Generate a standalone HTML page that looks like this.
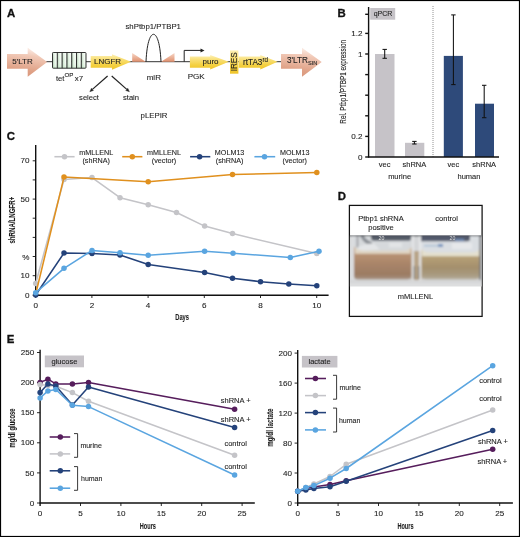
<!DOCTYPE html>
<html><head><meta charset="utf-8">
<style>
html,body{margin:0;padding:0;background:#fff;}
body{width:520px;height:537px;overflow:hidden;}
svg{display:block;font-family:"Liberation Sans",sans-serif;will-change:transform;filter:blur(0.3px);}
.t{font-size:7.5px;fill:#1e1e1e;stroke:#1e1e1e;stroke-width:0.1px;}
.lab{font-size:11.4px;font-weight:bold;fill:#111;stroke:#111;stroke-width:0.3px;}
.tk{font-size:8.1px;}
</style></head><body>
<svg width="520" height="537" viewBox="0 0 520 537">
<defs>
<linearGradient id="salmon" x1="0.3" y1="0" x2="0.1" y2="1">
<stop offset="0" stop-color="#fae8e0"/><stop offset="0.22" stop-color="#f1c9b7"/><stop offset="0.72" stop-color="#dfa186"/><stop offset="1" stop-color="#d8957a"/>
</linearGradient>
<linearGradient id="yel" x1="0" y1="0" x2="0" y2="1">
<stop offset="0" stop-color="#fdf1b8"/><stop offset="0.3" stop-color="#f9e07a"/><stop offset="0.7" stop-color="#f4d040"/><stop offset="1" stop-color="#efc42a"/>
</linearGradient>
<linearGradient id="grn" x1="0" y1="0" x2="0" y2="1">
<stop offset="0" stop-color="#f4fbf4"/><stop offset="1" stop-color="#c9e6cc"/>
</linearGradient>
<clipPath id="pc"><rect x="349.9" y="235.3" width="131.7" height="51.2"/></clipPath>
<filter id="bl" x="-5%" y="-5%" width="110%" height="110%"><feGaussianBlur stdDeviation="0.8"/></filter>
<linearGradient id="liqL" x1="0" y1="0" x2="0" y2="1">
<stop offset="0" stop-color="#c8a482"/><stop offset="0.25" stop-color="#b89274"/><stop offset="0.55" stop-color="#a88468"/><stop offset="0.85" stop-color="#9c7c64"/><stop offset="1" stop-color="#a89484"/>
</linearGradient>
<linearGradient id="liqR" x1="0" y1="0" x2="0" y2="1">
<stop offset="0" stop-color="#c4ac80"/><stop offset="0.3" stop-color="#b49e76"/><stop offset="0.6" stop-color="#a48f6c"/><stop offset="0.85" stop-color="#a89a80"/><stop offset="1" stop-color="#b8b0a0"/>
</linearGradient>
<linearGradient id="tri" x1="0" y1="0" x2="0" y2="1">
<stop offset="0" stop-color="#f6d6c6"/><stop offset="1" stop-color="#e0906e"/>
</linearGradient>
<linearGradient id="cell" x1="0" y1="0" x2="1" y2="0">
<stop offset="0" stop-color="#9db59f"/><stop offset="0.3" stop-color="#d8ecd8"/><stop offset="0.7" stop-color="#f3fbf3"/><stop offset="1" stop-color="#e2f0e2"/>
</linearGradient>
<linearGradient id="grnv" x1="0" y1="0" x2="0" y2="1">
<stop offset="0" stop-color="#ffffff" stop-opacity="0.35"/><stop offset="0.5" stop-color="#ffffff" stop-opacity="0"/><stop offset="1" stop-color="#a8d8ac" stop-opacity="0.35"/>
</linearGradient>
</defs>
<rect x="0.5" y="0.5" width="519" height="536" fill="#fff" stroke="#000" stroke-width="1.2"/>

<!-- ============ PANEL A ============ -->
<text class="lab" x="7" y="16.7">A</text>
<!-- backbone line -->
<line x1="45" y1="61.7" x2="282" y2="61.7" stroke="#333" stroke-width="1"/>
<!-- 5'LTR -->
<path d="M7,54.1 H27.7 V47.8 L47.2,62 L27.7,76.7 V68.8 H7 Z" fill="url(#salmon)"/>
<text class="t" x="22.5" y="64" style="font-size:8px" text-anchor="middle">5'LTR</text>
<!-- tetOP -->
<rect x="52.5" y="52.5" width="4.8" height="15.7" fill="url(#cell)"/><rect x="57.3" y="52.5" width="4.8" height="15.7" fill="url(#cell)"/><rect x="62.1" y="52.5" width="4.8" height="15.7" fill="url(#cell)"/><rect x="66.9" y="52.5" width="4.8" height="15.7" fill="url(#cell)"/><rect x="71.7" y="52.5" width="4.8" height="15.7" fill="url(#cell)"/><rect x="76.5" y="52.5" width="4.8" height="15.7" fill="url(#cell)"/><rect x="81.3" y="52.5" width="4.7" height="15.7" fill="url(#cell)"/>
<rect x="52.5" y="52.5" width="33.5" height="15.7" fill="url(#grnv)"/>
<rect x="52.5" y="52.5" width="33.5" height="15.7" rx="0.8" fill="none" stroke="#2a2a2a" stroke-width="0.95"/>
<g stroke="#2a2a2a" stroke-width="0.95"><line x1="57.3" y1="52.5" x2="57.3" y2="68.2"/><line x1="62.1" y1="52.5" x2="62.1" y2="68.2"/><line x1="66.9" y1="52.5" x2="66.9" y2="68.2"/><line x1="71.7" y1="52.5" x2="71.7" y2="68.2"/><line x1="76.5" y1="52.5" x2="76.5" y2="68.2"/><line x1="81.3" y1="52.5" x2="81.3" y2="68.2"/></g>
<text class="t" x="56" y="80.8" style="font-size:7.6px">tet<tspan dy="-3.4" style="font-size:6.2px">OP</tspan><tspan dy="3.4" dx="-0.9" style="font-size:7.9px"> x7</tspan></text>
<!-- LNGFR -->
<path d="M90.7,55.9 H112 V54.2 L131,61.8 L112,69.8 V67.7 H90.7 Z" fill="url(#yel)"/>
<text class="t" x="94" y="64.4" style="font-size:8px">LNGFR</text>
<!-- arrows select/stain -->
<g stroke="#222" stroke-width="1.2" fill="#222">
<line x1="107.6" y1="76" x2="92.4" y2="89.4"/><path d="M89.8,91.7 L93.42,90.51 L91.44,88.25 Z" stroke-width="0.4"/>
<line x1="111.7" y1="76" x2="126.8" y2="89.4"/><path d="M129.4,91.7 L125.78,90.5 L127.78,88.26 Z" stroke-width="0.4"/>
</g>
<text class="t" x="89" y="100" text-anchor="middle" style="font-size:7.6px">select</text>
<text class="t" x="131" y="100" text-anchor="middle" style="font-size:7.6px">stain</text>
<!-- miR -->
<path d="M132.2,53 L132.2,61.7 L145.8,61.7 Z" fill="url(#tri)"/>
<path d="M174.5,53 L174.5,61.7 L161,61.7 Z" fill="url(#tri)"/>
<path d="M146,61.7 C147,40 151,34.3 153.5,34.3 C156,34.3 160,40 161,61.7" fill="none" stroke="#222" stroke-width="1"/>
<text class="t" x="153.2" y="29.2" text-anchor="middle" style="font-size:7.8px">shPtbp1/PTBP1</text>
<text class="t" x="153.8" y="79.5" text-anchor="middle" style="font-size:8px">miR</text>
<!-- PGK -->
<path d="M184.2,61.7 V50.4 H201" fill="none" stroke="#222" stroke-width="1"/>
<path d="M204.5,50.4 L200.5,48.4 L200.5,52.4 Z" fill="#222"/>
<text class="t" x="196.2" y="79.4" text-anchor="middle" style="font-size:8.1px">PGK</text>
<!-- puro -->
<path d="M189.9,56.4 H210.2 V55 L228.8,61.8 L210.2,69.4 V67.7 H189.9 Z" fill="url(#yel)"/>
<text class="t" x="202.5" y="63.8" style="font-size:8px">puro</text>
<!-- IRES -->
<rect x="230" y="50.4" width="8.4" height="23.3" fill="url(#yel)"/>
<text class="t" transform="translate(236.6,61.8) rotate(-90)" text-anchor="middle" style="font-size:8.2px">IRES</text>
<!-- rtTA3 -->
<path d="M238.7,56.4 H260.3 V55 L277.6,61.8 L260.3,69.5 V67.7 H238.7 Z" fill="url(#yel)"/>
<text class="t" x="243" y="65.4" style="font-size:8.2px">rtTA3<tspan dy="-3.1" style="font-size:6.3px">rd</tspan></text>
<!-- 3'LTR -->
<path d="M281,54.1 H302 V47.8 L321.7,62 L302,76.7 V68.8 H281 Z" fill="url(#salmon)"/>
<text class="t" x="287" y="63.2" style="font-size:8.2px">3'LTR<tspan dy="2.2" style="font-size:5.6px">SIN</tspan></text>
<text class="t" x="154" y="118.4" text-anchor="middle" style="font-size:7.8px">pLEPIR</text>

<!-- ============ PANEL B ============ -->
<text class="lab" x="337.4" y="16.6">B</text>
<rect x="370.2" y="8" width="25" height="11.7" fill="#c6c3c8"/>
<text class="t" x="383" y="16.3" text-anchor="middle" style="font-size:7px">qPCR</text>
<!-- bars -->
<rect x="375" y="54" width="19.5" height="103" fill="#c6c3c8"/>
<rect x="405" y="142.8" width="19.3" height="14.2" fill="#c6c3c8"/>
<rect x="443.8" y="55.9" width="19.1" height="101.1" fill="#2e4a7a"/>
<rect x="475" y="103.7" width="19" height="53.3" fill="#2e4a7a"/>
<!-- error bars -->
<g stroke="#111" stroke-width="1.05">
<line x1="384.7" y1="49.4" x2="384.7" y2="58.3"/><line x1="382.5" y1="49.4" x2="386.9" y2="49.4"/><line x1="382.5" y1="58.3" x2="386.9" y2="58.3"/>
<line x1="414.4" y1="141.4" x2="414.4" y2="144"/><line x1="412.2" y1="141.4" x2="416.59999999999997" y2="141.4"/><line x1="412.2" y1="144" x2="416.59999999999997" y2="144"/>
<line x1="453.4" y1="14.9" x2="453.4" y2="84.6"/><line x1="451.2" y1="14.9" x2="455.59999999999997" y2="14.9"/><line x1="451.2" y1="84.6" x2="455.59999999999997" y2="84.6"/>
<line x1="484.2" y1="85.3" x2="484.2" y2="117.7"/><line x1="482.0" y1="85.3" x2="486.4" y2="85.3"/><line x1="482.0" y1="117.7" x2="486.4" y2="117.7"/>
</g>
<line x1="433" y1="6" x2="433" y2="157" stroke="#777" stroke-width="0.8" stroke-dasharray="1,1"/>
<!-- axes -->
<g stroke="#111" stroke-width="1.4">
<line x1="368.6" y1="7" x2="368.6" y2="157.5"/>
<line x1="368.1" y1="157" x2="499" y2="157"/>
<line x1="365.2" y1="14.3" x2="368.6" y2="14.3"/>
<line x1="365.2" y1="157" x2="368.6" y2="157"/>
<line x1="365.2" y1="33.4" x2="368.6" y2="33.4"/>
<line x1="365.2" y1="54" x2="368.6" y2="54"/>
<line x1="365.2" y1="74.6" x2="368.6" y2="74.6"/>
<line x1="365.2" y1="95.2" x2="368.6" y2="95.2"/>
<line x1="365.2" y1="115.8" x2="368.6" y2="115.8"/>
<line x1="365.2" y1="136.4" x2="368.6" y2="136.4"/>
</g>
<g class="t tk" text-anchor="end">
<text x="362.5" y="35.9">1.2</text>
<text x="362.5" y="56.7">1</text>
<text x="362.5" y="139.1">0.2</text>
<text x="362.5" y="159.9">0</text>
</g>
<text class="t" transform="translate(346,81.8) rotate(-90) scale(0.705,1)" text-anchor="middle" style="font-size:9px">Rel. Ptbp1/PTBP1 expression</text>
<text class="t" x="384.6" y="167" text-anchor="middle">vec</text>
<text class="t" x="414.4" y="167" text-anchor="middle">shRNA</text>
<text class="t" x="399.6" y="178.5" text-anchor="middle">murine</text>
<text class="t" x="453.4" y="167" text-anchor="middle">vec</text>
<text class="t" x="484.2" y="167" text-anchor="middle">shRNA</text>
<text class="t" x="469" y="178.5" text-anchor="middle">human</text>

<!-- ============ PANEL C ============ -->
<text class="lab" x="6.7" y="139.5">C</text>
<g stroke="#111" stroke-width="1.4">
<line x1="35.7" y1="145" x2="35.7" y2="295.5"/>
<line x1="32.7" y1="295.2" x2="328.6" y2="295.2"/>
</g>
<g stroke="#111" stroke-width="0.9">
<line x1="32.7" y1="160.8" x2="35.7" y2="160.8"/><line x1="32.7" y1="179.9" x2="35.7" y2="179.9"/>
<line x1="32.7" y1="199.1" x2="35.7" y2="199.1"/><line x1="32.7" y1="218.2" x2="35.7" y2="218.2"/>
<line x1="32.7" y1="237.4" x2="35.7" y2="237.4"/><line x1="32.7" y1="256.5" x2="35.7" y2="256.5"/>
<line x1="32.7" y1="275.7" x2="35.7" y2="275.7"/>
<line x1="35.7" y1="295" x2="35.7" y2="298"/><line x1="91.9" y1="295" x2="91.9" y2="298"/>
<line x1="148.1" y1="295" x2="148.1" y2="298"/><line x1="204.3" y1="295" x2="204.3" y2="298"/>
<line x1="260.5" y1="295" x2="260.5" y2="298"/><line x1="316.7" y1="295" x2="316.7" y2="298"/>
</g>
<text class="t tk" x="29.5" y="163.4" text-anchor="end">70</text>
<text class="t tk" x="29.5" y="201.7" text-anchor="end">50</text>
<text class="t tk" x="29.5" y="259.5" text-anchor="end">%</text>
<text class="t tk" x="29.5" y="278.3" text-anchor="end">10</text>
<text class="t tk" x="29.5" y="297.5" text-anchor="end">0</text>
<g class="t tk" text-anchor="middle">
<text x="35.7" y="308">0</text><text x="91.9" y="308">2</text><text x="148.1" y="308">4</text>
<text x="204.3" y="308">6</text><text x="260.5" y="308">8</text><text x="316.7" y="308">10</text>
</g>
<text class="t" transform="translate(182.1,320.4) scale(0.64,1)" text-anchor="middle" style="font-size:9px;font-weight:bold">Days</text>
<text class="t" transform="translate(15.1,220.2) rotate(-90) scale(0.706,1)" text-anchor="middle" style="font-size:8.7px;font-weight:bold">shRNA/LNGFR+</text>
<!--SC-->
<polyline fill="none" stroke="#c4c4c8" stroke-width="1.55" stroke-linejoin="round" points="35.7,283.5 64,179.6 92,177.6 120,197.7 148.2,204.7 176.5,212.5 204.6,226.1 232.5,233.6 316.8,253.6"/>
<g fill="#c4c4c8"><circle cx="35.7" cy="283.5" r="2.75"/><circle cx="64" cy="179.6" r="2.75"/><circle cx="92" cy="177.6" r="2.75"/><circle cx="120" cy="197.7" r="2.75"/><circle cx="148.2" cy="204.7" r="2.75"/><circle cx="176.5" cy="212.5" r="2.75"/><circle cx="204.6" cy="226.1" r="2.75"/><circle cx="232.5" cy="233.6" r="2.75"/><circle cx="316.8" cy="253.6" r="2.75"/></g>
<polyline fill="none" stroke="#e0901e" stroke-width="1.55" stroke-linejoin="round" points="35.7,294 64,177.1 148.2,181.8 232.5,174.6 316.8,172.6"/>
<g fill="#e0901e"><circle cx="64" cy="177.1" r="2.75"/><circle cx="148.2" cy="181.8" r="2.75"/><circle cx="232.5" cy="174.6" r="2.75"/><circle cx="316.8" cy="172.6" r="2.75"/></g>
<polyline fill="none" stroke="#24427a" stroke-width="1.55" stroke-linejoin="round" points="35.7,295 64,253 92,253.5 120,255 148.2,264.6 204.6,272.6 232.5,278.2 260.5,281.7 288.8,284 316.8,285.8"/>
<g fill="#24427a"><circle cx="35.7" cy="295" r="2.75"/><circle cx="64" cy="253" r="2.75"/><circle cx="92" cy="253.5" r="2.75"/><circle cx="120" cy="255" r="2.75"/><circle cx="148.2" cy="264.6" r="2.75"/><circle cx="204.6" cy="272.6" r="2.75"/><circle cx="232.5" cy="278.2" r="2.75"/><circle cx="260.5" cy="281.7" r="2.75"/><circle cx="288.8" cy="284" r="2.75"/><circle cx="316.8" cy="285.8" r="2.75"/></g>
<polyline fill="none" stroke="#5aa5e0" stroke-width="1.55" stroke-linejoin="round" points="35.7,292.7 64,268.3 92,250.5 120,252.8 148.2,255.3 204.6,251.2 233,253.2 290.3,257.5 319,251.2"/>
<g fill="#5aa5e0"><circle cx="35.7" cy="292.7" r="2.75"/><circle cx="64" cy="268.3" r="2.75"/><circle cx="92" cy="250.5" r="2.75"/><circle cx="120" cy="252.8" r="2.75"/><circle cx="148.2" cy="255.3" r="2.75"/><circle cx="204.6" cy="251.2" r="2.75"/><circle cx="233" cy="253.2" r="2.75"/><circle cx="290.3" cy="257.5" r="2.75"/><circle cx="319" cy="251.2" r="2.75"/></g>
<!--/SC-->
<!-- legend C -->
<g stroke-width="1.55">
<line x1="54.4" y1="156.7" x2="74.6" y2="156.7" stroke="#c4c4c8"/>
<line x1="122.2" y1="156.7" x2="142.4" y2="156.7" stroke="#e0901e"/>
<line x1="190.1" y1="156.7" x2="210.3" y2="156.7" stroke="#24427a"/>
<line x1="254.4" y1="156.7" x2="275.2" y2="156.7" stroke="#5aa5e0"/>
</g>
<circle cx="64.5" cy="156.7" r="2.75" fill="#c4c4c8"/>
<circle cx="132.3" cy="156.7" r="2.75" fill="#e0901e"/>
<circle cx="199.6" cy="156.7" r="2.75" fill="#24427a"/>
<circle cx="264.5" cy="156.7" r="2.75" fill="#5aa5e0"/>
<g class="t" text-anchor="middle" style="font-size:7.2px">
<text x="96.2" y="155">mMLLENL</text><text x="96.2" y="163.4">(shRNA)</text>
<text x="164" y="155">mMLLENL</text><text x="164" y="163.4">(vector)</text>
<text x="229.6" y="155">MOLM13</text><text x="229.6" y="163.4">(shRNA)</text>
<text x="294.8" y="155">MOLM13</text><text x="294.8" y="163.4">(vector)</text>
</g>

<!-- ============ PANEL D ============ -->
<text class="lab" x="337.8" y="199.5">D</text>
<rect x="349.4" y="205.4" width="132.7" height="111" fill="#fff" stroke="#111" stroke-width="1.25"/>
<text class="t" x="381" y="221" text-anchor="middle">Ptbp1 shRNA</text>
<text class="t" x="381" y="229.7" text-anchor="middle">positive</text>
<text class="t" x="446.6" y="221" text-anchor="middle">control</text>
<text class="t" x="415.5" y="299.3" text-anchor="middle">mMLLENL</text>
<g clip-path="url(#pc)">
<g filter="url(#bl)">
<rect x="345" y="230" width="140" height="60" fill="#d4d6d8"/>
<rect x="345" y="234" width="140" height="2.2" fill="#3a3d44"/>
<!-- left flask upper -->
<rect x="353" y="236" width="58" height="15" fill="#d6d9dc"/>
<path d="M371,235.5 H411 V239 Q411,240.8 408,240.8 H376 Q371,240.8 371,238.5 Z" fill="#555b68"/>
<path d="M360,236 Q364,244 372,246 L372,242 Q366,240 364,236 Z" fill="#8a8e94"/>
<rect x="356.8" y="236" width="1.4" height="12" fill="#8a8e92"/>
<path d="M356,248.5 Q364,243 374,243.5 L380,249.5 L360,251 Z" fill="#e4e6e8"/>
<rect x="389" y="242.5" width="13" height="5" fill="#e2e4e6"/>
<!-- right flask upper -->
<rect x="421" y="236" width="59" height="17" fill="#dadee2"/>
<path d="M421,235.5 H470 V239.3 Q470,241.3 466,241.3 H421 Z" fill="#525a6c"/>
<rect x="424" y="245" width="14" height="1.3" fill="#a4bcd4"/>
<rect x="438" y="244" width="5" height="3" fill="#7a98c0"/>
<rect x="455" y="238.8" width="9" height="2.3" fill="#6a86b0"/>
<rect x="452" y="243" width="20" height="6" fill="#e6e8ea"/>
<!-- liquids -->
<path d="M354,246 Q356,252 362,252.5 H405 Q410,252 411.5,247 V276 Q411.5,279.5 407,279.5 H358 Q354,279.5 354,276 Z" fill="url(#liqL)"/>
<path d="M355,247.5 Q358,250.5 364,250.8 H404 Q409,250.5 410.5,247.5 V253.8 H355 Z" fill="#e0d6c4"/>
<path d="M421.5,249 Q423,255.5 430,256 H472 Q478,255.5 479.5,249 V276 Q479.5,279.5 475,279.5 H426 Q421.5,279.5 421.5,276 Z" fill="url(#liqR)"/>
<path d="M421.5,249 Q424,252.3 430,252.6 H472 Q478,252.3 479.5,249 V256.3 H421.5 Z" fill="#e4e0ce"/>
<!-- gap between flasks -->
<rect x="411.5" y="251" width="10" height="29" fill="#b8a488"/>
<rect x="412" y="236" width="1.8" height="45" fill="#e6e8ea"/>
<rect x="419.2" y="236" width="1.8" height="45" fill="#eaeced"/>
<rect x="413.8" y="266" width="1" height="13" fill="#555"/>
<rect x="418.2" y="266" width="1" height="13" fill="#555"/>
<!-- walls -->
<rect x="351.3" y="236" width="2" height="44" fill="#e0e2e4"/>
<rect x="479.6" y="236" width="1.4" height="44" fill="#4a4d52"/>
<!-- bottom -->
<rect x="345" y="280.5" width="140" height="10" fill="#d6d7d8"/>
<rect x="345" y="283.5" width="140" height="6" fill="#dedfe0"/>
</g>
<text x="378.5" y="240.2" style="font-size:5.2px;fill:#e4e4e4">20</text>
<text x="449.5" y="240.4" style="font-size:5.2px;fill:#dcdcdc">20</text>
</g>

<!-- ============ PANEL E ============ -->
<text class="lab" x="6.7" y="342.5">E</text>
<!-- glucose axes -->
<g stroke="#111" stroke-width="1.4">
<line x1="40.1" y1="349.8" x2="40.1" y2="506"/>
<line x1="39.6" y1="503" x2="254.8" y2="503"/>
</g>
<g stroke="#111" stroke-width="0.9">
<line x1="37" y1="352.5" x2="40.1" y2="352.5"/><line x1="37" y1="382.6" x2="40.1" y2="382.6"/>
<line x1="37" y1="412.7" x2="40.1" y2="412.7"/><line x1="37" y1="442.8" x2="40.1" y2="442.8"/>
<line x1="37" y1="472.9" x2="40.1" y2="472.9"/><line x1="37" y1="503" x2="40.1" y2="503"/>
<line x1="80.5" y1="503" x2="80.5" y2="506"/><line x1="120.9" y1="503" x2="120.9" y2="506"/>
<line x1="161.3" y1="503" x2="161.3" y2="506"/><line x1="201.7" y1="503" x2="201.7" y2="506"/>
<line x1="242.1" y1="503" x2="242.1" y2="506"/>
</g>
<g class="t tk" text-anchor="end">
<text x="34.2" y="355">250</text><text x="34.2" y="385.2">200</text><text x="34.2" y="415.3">150</text>
<text x="34.2" y="445.4">100</text><text x="34.2" y="475.5">50</text><text x="34.2" y="505.6">0</text>
</g>
<g class="t tk" text-anchor="middle">
<text x="40.1" y="515.7">0</text><text x="80.5" y="515.7">5</text><text x="120.9" y="515.7">10</text>
<text x="161.3" y="515.7">15</text><text x="201.7" y="515.7">20</text><text x="242.1" y="515.7">25</text>
</g>
<text class="t" transform="translate(147.9,528.8) scale(0.62,1)" text-anchor="middle" style="font-size:9px;font-weight:bold">Hours</text>
<text class="t" transform="translate(15.2,428) rotate(-90) scale(0.667,1)" text-anchor="middle" style="font-size:8.7px;font-weight:bold">mg/dl glucose</text>
<rect x="44.8" y="355.5" width="39.2" height="11.8" fill="#c6c3c8"/>
<text class="t" x="64.4" y="364" text-anchor="middle">glucose</text>
<!--SG-->
<polyline fill="none" stroke="#561d5c" stroke-width="1.55" stroke-linejoin="round" points="40.1,382.4 47.9,379.2 55.8,383.9 72.4,383.9 88.5,382.5 234.6,409.2"/>
<g fill="#561d5c"><circle cx="40.1" cy="382.4" r="2.75"/><circle cx="47.9" cy="379.2" r="2.75"/><circle cx="55.8" cy="383.9" r="2.75"/><circle cx="72.4" cy="383.9" r="2.75"/><circle cx="88.5" cy="382.5" r="2.75"/><circle cx="234.6" cy="409.2" r="2.75"/></g>
<polyline fill="none" stroke="#c4c4c8" stroke-width="1.55" stroke-linejoin="round" points="40.1,384.5 47.9,385.5 55.8,386.2 72.4,392.6 88.5,401.2 234.6,455.3"/>
<g fill="#c4c4c8"><circle cx="40.1" cy="384.5" r="2.75"/><circle cx="47.9" cy="385.5" r="2.75"/><circle cx="55.8" cy="386.2" r="2.75"/><circle cx="72.4" cy="392.6" r="2.75"/><circle cx="88.5" cy="401.2" r="2.75"/><circle cx="234.6" cy="455.3" r="2.75"/></g>
<polyline fill="none" stroke="#24427a" stroke-width="1.55" stroke-linejoin="round" points="40.1,392.6 47.9,383.9 55.8,385.9 72.4,405 88.5,387.1 234.6,427.4"/>
<g fill="#24427a"><circle cx="40.1" cy="392.6" r="2.75"/><circle cx="47.9" cy="383.9" r="2.75"/><circle cx="55.8" cy="385.9" r="2.75"/><circle cx="72.4" cy="405" r="2.75"/><circle cx="88.5" cy="387.1" r="2.75"/><circle cx="234.6" cy="427.4" r="2.75"/></g>
<polyline fill="none" stroke="#5aa5e0" stroke-width="1.55" stroke-linejoin="round" points="40.1,398 47.9,390.9 55.8,389.5 72.4,405.3 88.5,406.6 234.6,475"/>
<g fill="#5aa5e0"><circle cx="40.1" cy="398" r="2.75"/><circle cx="47.9" cy="390.9" r="2.75"/><circle cx="55.8" cy="389.5" r="2.75"/><circle cx="72.4" cy="405.3" r="2.75"/><circle cx="88.5" cy="406.6" r="2.75"/><circle cx="234.6" cy="475" r="2.75"/></g>
<!--/SG-->
<g class="t" text-anchor="middle">
<text x="235.7" y="403">shRNA +</text><text x="235.7" y="421.6">shRNA +</text>
<text x="235.7" y="446">control</text><text x="235.7" y="468.8">control</text>
</g>
<!-- glucose legend -->
<g stroke-width="1.55">
<line x1="49.7" y1="437" x2="70.2" y2="437" stroke="#561d5c"/>
<line x1="49.7" y1="453.9" x2="70.2" y2="453.9" stroke="#c4c4c8"/>
<line x1="49.7" y1="470.8" x2="70.2" y2="470.8" stroke="#24427a"/>
<line x1="49.7" y1="488.2" x2="70.2" y2="488.2" stroke="#5aa5e0"/>
</g>
<circle cx="60.3" cy="437" r="2.75" fill="#561d5c"/><circle cx="60.3" cy="453.9" r="2.75" fill="#c4c4c8"/>
<circle cx="60.3" cy="470.8" r="2.75" fill="#24427a"/><circle cx="60.3" cy="488.2" r="2.75" fill="#5aa5e0"/>
<g fill="none" stroke="#222" stroke-width="0.9">
<path d="M74,433.6 H77.6 V457.3 H74"/><path d="M74,466.6 H77.6 V490.3 H74"/>
</g>
<text class="t" x="80.4" y="448" style="font-size:7px">murine</text>
<text class="t" x="81" y="481" style="font-size:7px">human</text>

<!-- lactate -->
<g stroke="#111" stroke-width="1.4">
<line x1="297.7" y1="350.1" x2="297.7" y2="506"/>
<line x1="297.2" y1="503" x2="512.9" y2="503"/>
</g>
<g stroke="#111" stroke-width="0.9">
<line x1="294.6" y1="353.1" x2="297.7" y2="353.1"/><line x1="294.6" y1="383.1" x2="297.7" y2="383.1"/>
<line x1="294.6" y1="413.1" x2="297.7" y2="413.1"/><line x1="294.6" y1="443.1" x2="297.7" y2="443.1"/>
<line x1="294.6" y1="473" x2="297.7" y2="473"/><line x1="294.6" y1="503" x2="297.7" y2="503"/>
<line x1="338.1" y1="503" x2="338.1" y2="506"/><line x1="378.5" y1="503" x2="378.5" y2="506"/>
<line x1="418.9" y1="503" x2="418.9" y2="506"/><line x1="459.3" y1="503" x2="459.3" y2="506"/>
<line x1="499.7" y1="503" x2="499.7" y2="506"/>
</g>
<g class="t tk" text-anchor="end">
<text x="292" y="355.7">200</text><text x="292" y="385.7">160</text><text x="292" y="415.7">120</text>
<text x="292" y="445.7">80</text><text x="292" y="475.6">40</text><text x="292" y="505.6">0</text>
</g>
<g class="t tk" text-anchor="middle">
<text x="297.7" y="515.7">0</text><text x="338.1" y="515.7">5</text><text x="378.5" y="515.7">10</text>
<text x="418.9" y="515.7">15</text><text x="459.3" y="515.7">20</text><text x="499.7" y="515.7">25</text>
</g>
<text class="t" transform="translate(405.5,528.8) scale(0.62,1)" text-anchor="middle" style="font-size:9px;font-weight:bold">Hours</text>
<text class="t" transform="translate(272.5,427.6) rotate(-90) scale(0.724,1)" text-anchor="middle" style="font-size:8.7px;font-weight:bold">mg/dl lactate</text>
<rect x="301.9" y="355.9" width="35.5" height="11.6" fill="#c6c3c8"/>
<text class="t" x="319.6" y="364.3" text-anchor="middle">lactate</text>
<!--SL-->
<polyline fill="none" stroke="#561d5c" stroke-width="1.55" stroke-linejoin="round" points="297.7,491.3 305.8,488.5 313.9,487.1 330,484.6 346.2,480.8 492.7,449.2"/>
<g fill="#561d5c"><circle cx="297.7" cy="491.3" r="2.75"/><circle cx="305.8" cy="488.5" r="2.75"/><circle cx="313.9" cy="487.1" r="2.75"/><circle cx="330" cy="484.6" r="2.75"/><circle cx="346.2" cy="480.8" r="2.75"/><circle cx="492.7" cy="449.2" r="2.75"/></g>
<polyline fill="none" stroke="#c4c4c8" stroke-width="1.55" stroke-linejoin="round" points="297.7,491.3 305.8,487.5 313.9,484 330,476.5 346.2,464.3 492.7,409.9"/>
<g fill="#c4c4c8"><circle cx="297.7" cy="491.3" r="2.75"/><circle cx="305.8" cy="487.5" r="2.75"/><circle cx="313.9" cy="484" r="2.75"/><circle cx="330" cy="476.5" r="2.75"/><circle cx="346.2" cy="464.3" r="2.75"/><circle cx="492.7" cy="409.9" r="2.75"/></g>
<polyline fill="none" stroke="#24427a" stroke-width="1.55" stroke-linejoin="round" points="297.7,491.3 305.8,489.9 313.9,488.6 330,486.7 346.2,481.2 492.7,430.6"/>
<g fill="#24427a"><circle cx="297.7" cy="491.3" r="2.75"/><circle cx="305.8" cy="489.9" r="2.75"/><circle cx="313.9" cy="488.6" r="2.75"/><circle cx="330" cy="486.7" r="2.75"/><circle cx="346.2" cy="481.2" r="2.75"/><circle cx="492.7" cy="430.6" r="2.75"/></g>
<polyline fill="none" stroke="#5aa5e0" stroke-width="1.55" stroke-linejoin="round" points="297.7,491.3 305.8,487.5 313.9,485.6 330,478.2 346.2,468.5 492.7,365.7"/>
<g fill="#5aa5e0"><circle cx="297.7" cy="491.3" r="2.75"/><circle cx="305.8" cy="487.5" r="2.75"/><circle cx="313.9" cy="485.6" r="2.75"/><circle cx="330" cy="478.2" r="2.75"/><circle cx="346.2" cy="468.5" r="2.75"/><circle cx="492.7" cy="365.7" r="2.75"/></g>
<!--/SL-->
<g class="t" text-anchor="middle">
<text x="490.4" y="383.2">control</text><text x="490.4" y="401">control</text>
<text x="492.9" y="444">shRNA +</text><text x="492.3" y="464.2">shRNA +</text>
</g>
<g stroke-width="1.55">
<line x1="305" y1="378.5" x2="326" y2="378.5" stroke="#561d5c"/>
<line x1="305" y1="395.6" x2="326" y2="395.6" stroke="#c4c4c8"/>
<line x1="305" y1="412.6" x2="326" y2="412.6" stroke="#24427a"/>
<line x1="305" y1="429.9" x2="326" y2="429.9" stroke="#5aa5e0"/>
</g>
<circle cx="315.4" cy="378.5" r="2.75" fill="#561d5c"/><circle cx="315.4" cy="395.6" r="2.75" fill="#c4c4c8"/>
<circle cx="315.4" cy="412.6" r="2.75" fill="#24427a"/><circle cx="315.4" cy="429.9" r="2.75" fill="#5aa5e0"/>
<g fill="none" stroke="#222" stroke-width="0.9">
<path d="M333,375.3 H336.6 V399.2 H333"/><path d="M333,408.1 H336.6 V432 H333"/>
</g>
<text class="t" x="339.5" y="390" style="font-size:7px">murine</text>
<text class="t" x="338.9" y="423" style="font-size:7px">human</text>
</svg>
</body></html>
